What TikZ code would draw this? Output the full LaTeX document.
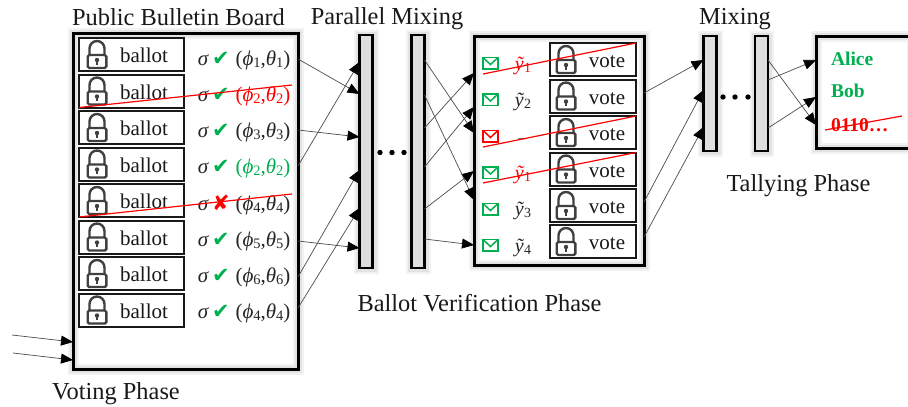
\documentclass[tikz,border=0pt]{standalone}
\usepackage{fontspec}
\setmainfont{Liberation Serif}
\newfontfamily\dejavu{DejaVu Sans}
\usetikzlibrary{arrows.meta}
\definecolor{okgreen}{HTML}{00B050}
\definecolor{badred}{HTML}{FF0000}
\definecolor{lockgrey}{HTML}{404040}
\tikzset{
  x=1pt,y=-1pt,
  every node/.style={inner sep=0pt,outer sep=0pt},
  title/.style={font=\fontsize{24.4}{24.4}\selectfont,text=black!90,anchor=base},
  itemtxt/.style={font=\fontsize{21}{21}\selectfont,text=black!90,anchor=base},
  sigtxt/.style={font=\fontsize{21}{21}\selectfont\itshape,text=black!85,anchor=base},
  tagbox/.style={draw=black!90,line width=2pt,fill=white,minimum height=33pt},
  ballotbox/.style={tagbox,minimum width=105pt},
  votebox/.style={tagbox,minimum width=86pt},
  barbox/.style={draw=black,line width=2.8pt,fill=black!13,minimum width=13pt},
  link/.style={draw=black!70,line width=.7pt,-{Triangle[length=12pt,width=10pt,black]},shorten >=0pt},
  strike/.style={draw=badred,line width=1.2pt},
  mail/.style={line width=1.5pt,line join=miter},
}
% lock drawn with its centre at #1
\newcommand{\lockat}[1]{%
  \begin{scope}[shift={#1}]
    \draw[lockgrey,line width=2.4pt] (-7.5,0.5) -- (-7.5,-6) arc[start angle=180,end angle=360,x radius=7.5,y radius=7.5] -- (7.5,0.5);
    \draw[lockgrey,line width=2.4pt,fill=white,rounded corners=1.5pt] (-9.3,0.5) rectangle (9.3,13.5);
    \fill[lockgrey] (0,5.5) circle[radius=2.2];
    \fill[lockgrey] (-1,5.5) rectangle (1,10);
  \end{scope}}
% envelope with top left at #1
\newcommand{\mailat}[2]{%
  \begin{scope}[shift={#1}]
    \draw[mail,#2] (0,0) rectangle (15,11.5);
    \draw[mail,#2] (0,0) -- (7.5,7) -- (15,0);
  \end{scope}}
\newcommand{\sigcheck}[2]{%
  \node[sigtxt] at (203,#1) {σ};
  \node[anchor=base,text=okgreen,font=\dejavu\fontsize{21}{21}\selectfont] at (221,#1) {✔};}
\newcommand{\pair}[4]{% y, colour, phi index, theta index
  \node[anchor=base,text=#2,font=\fontsize{21}{21}\selectfont] at (263,#1)
   {(\textit{ϕ}\raisebox{-2pt}{\fontsize{14.5}{14.5}\selectfont #3},\textit{θ}\raisebox{-2pt}{\fontsize{14.5}{14.5}\selectfont #4})};}
\newcommand{\ytil}[3]{% y, colour, index
  \node[anchor=base,text=#2,font=\fontsize{20}{20}\selectfont] at (523,#1)
   {\textit{ỹ}\raisebox{-2pt}{\fontsize{14}{14}\selectfont #3}};}
\begin{document}
\begin{tikzpicture}
\useasboundingbox (0,0) rectangle (908,407);
\clip (0,0) rectangle (908,407);
\fill[white] (0,0) rectangle (908,407);
% soft halos behind the main boxes and bars
\foreach \a/\b/\c/\d in {73/33/298/369,474/36/644/265,816/36/912/148,359/35/373/268,411/35/425/268,703/36/717/151,755/36/768/151}{
  \draw[black!5,line width=11pt] (\a,\b) rectangle (\c,\d);
  \draw[black!11,line width=7pt] (\a,\b) rectangle (\c,\d);
}
% frames
\node[draw=black,line width=3pt,minimum width=225pt,minimum height=336pt] (board) at (185.5,201) {};
\node[draw=black,line width=3pt,minimum width=170pt,minimum height=229pt] (verify) at (559,150.5) {};
\node[draw=black,line width=3pt,minimum width=96pt,minimum height=112pt] (result) at (864,92) {};
\node[barbox,minimum height=233pt] (pa) at (366,151.5) {};
\node[barbox,minimum height=233pt] (pb) at (418,151.5) {};
\node[barbox,minimum height=115pt] (ma) at (710,93.5) {};
\node[barbox,minimum height=115pt] (mb) at (761.5,93.5) {};
% titles
\node[title] (t1) at (178.5,25) {Public Bulletin Board};
\node[title] (t2) at (387,24) {Parallel Mixing};
\node[title] (t3) at (735,24) {Mixing};
\node[title] (t4) at (798.5,191) {Tallying Phase};
\node[title] (t5) at (479.5,311) {Ballot Verification Phase};
\node[title] (t6) at (116,399) {Voting Phase};
% ballots
\foreach \n/\y in {1/54.5,2/91,3/127.5,4/164,5/200.5,6/237,7/273.5,8/310}{
  \node[ballotbox] (b\n) at (131.5,\y) {};
  \lockat{(97,\y)}
  \node[itemtxt] at (144,\y+8) {ballot};
}
\sigcheck{65}{}\pair{65}{black!85}{1}{1}
\sigcheck{101}{}\pair{101}{badred}{2}{2}
\sigcheck{137}{}\pair{137}{black!85}{3}{3}
\sigcheck{173}{}\pair{173}{okgreen}{2}{2}
\node[sigtxt] at (203,210) {σ};
\node[anchor=base,text=badred,font=\dejavu\fontsize{21}{21}\selectfont] at (221,210) {✘};
\pair{210}{black!85}{4}{4}
\sigcheck{246}{}\pair{246}{black!85}{5}{5}
\sigcheck{282}{}\pair{282}{black!85}{6}{6}
\sigcheck{318}{}\pair{318}{black!85}{4}{4}
% votes
\foreach \n/\y in {1/59.5,2/96,3/132.5,4/169,5/205.5,6/241.5}{
  \node[votebox] (v\n) at (593,\y) {};
  \lockat{(566,\y)}
  \node[itemtxt] at (607,\y+8) {vote};
}
\foreach \y/\c in {57.5/okgreen,94/okgreen,130.5/badred,167/okgreen,203.5/okgreen,239.5/okgreen}{
  \mailat{(483,\y)}{\c}
}
\ytil{70}{badred}{1}
\ytil{106}{black!85}{2}
\node[anchor=base,text=black!85,font=\fontsize{14}{14}\selectfont] (dash) at (522,142) {–};
\ytil{179}{badred}{1}
\ytil{215}{black!85}{3}
\ytil{252}{black!85}{4}
% result text
\node[anchor=base west,text=okgreen,font=\fontsize{19.5}{19.5}\selectfont\bfseries] (alice) at (831,65.5) {Alice};
\node[anchor=base west,text=okgreen,font=\fontsize{19.5}{19.5}\selectfont\bfseries] (bob) at (831,97.5) {Bob};
\node[anchor=base west,text=badred,font=\fontsize{19.5}{19.5}\selectfont\bfseries] (code) at (831,131) {0110…};
% dots
\foreach \x in {380,392,404}{\fill[black] (\x,152.5) circle[radius=2.7];}
\foreach \x in {723,735,748}{\fill[black] (\x,97) circle[radius=2.7];}
% connector ends
\coordinate (in1) at (12,335);
\coordinate (in2) at (13,353);
\path[link] (in1) -- (board.west |- 0,342);
\path[link] (in2) -- (board.west |- 0,360);
\path[link] (board.east |- 0,59) -- (pa.west |- 0,94);
\path[link] (board.east |- 0,130) -- (pa.west |- 0,137);
\path[link] (board.east |- 0,166) -- (pa.west |- 0,62);
\path[link] (board.east |- 0,241) -- (pa.west |- 0,248);
\path[link] (board.east |- 0,277) -- (pa.west |- 0,170);
\path[link] (board.east |- 0,308) -- (pa.west |- 0,208);
\path[link] (pb.east |- 0,128) -- (verify.west |- 0,73);
\path[link] (pb.east |- 0,167) -- (verify.west |- 0,107);
\path[link] (pb.east |- 0,209) -- (verify.west |- 0,171);
\path[link] (pb.east |- 0,239) -- (verify.west |- 0,245);
\path[link] (pb.east |- 0,60) -- (verify.west |- 0,133);
\path[link] (pb.east |- 0,95) -- (verify.west |- 0,200);
\path[link] (verify.east |- 0,93) -- (ma.west |- 0,60);
\path[link] (verify.east |- 0,202) -- (ma.west |- 0,90);
\path[link] (verify.east |- 0,237) -- (ma.west |- 0,127);
\path[link] (mb.east |- 0,80) -- (result.west |- 0,60);
\path[link] (mb.east |- 0,128) -- (result.west |- 0,97);
\path[link] (mb.east |- 0,60) -- (result.west |- 0,125);
% strike-outs
\draw[strike] (b2.south west) -- (292,85);
\draw[strike] (b5.south west) -- (292,194);
\draw[strike] (483,74) -- (v1.north east);
\draw[strike] (483,147) -- (v3.north east);
\draw[strike] (483,183) -- (v4.north east);
\draw[strike] (825,130) -- (902,116);
\end{tikzpicture}
\end{document}
